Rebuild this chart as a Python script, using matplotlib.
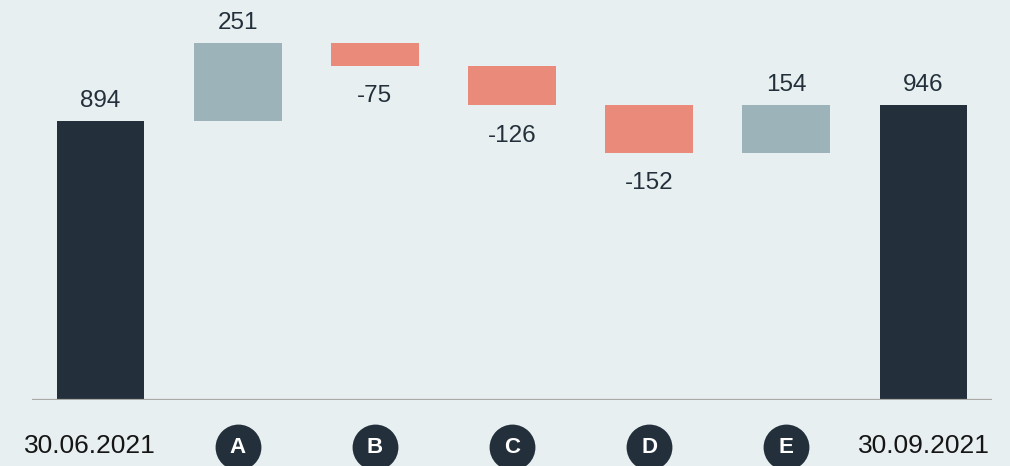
import matplotlib
matplotlib.use('Agg')
from matplotlib import pyplot as plt
import numpy as np

categories = ['30.06.2021', 'A', 'B', 'C', 'D', 'E', '30.09.2021']
changes = [894, 251, -75, -126, -152, 154, 946]
is_total = [True, False, False, False, False, False, True]

dark = '#23303b'
pos_color = '#9bb3b9'
neg_color = '#e98a7a'
bg = '#e8eff1'

plt.rcParams['font.family'] = ['Liberation Sans', 'DejaVu Sans']

# running totals for the floating bars
bottoms = []
heights = []
running = 0
for v, tot in zip(changes, is_total):
    if tot:
        bottoms.append(0)
        heights.append(v)
        running = v
    else:
        bottoms.append(running if v > 0 else running + v)
        heights.append(abs(v))
        running += v

colors = [dark if t else (pos_color if v > 0 else neg_color)
          for v, t in zip(changes, is_total)]

fig = plt.figure(figsize=(10.1, 4.66), dpi=100, facecolor=bg)
ax = fig.add_axes([32 / 1010, 66 / 466, 960 / 1010, 400 / 466])
ax.set_facecolor(bg)

x = np.arange(len(categories))
ax.bar(x, heights, bottom=bottoms, width=0.64, color=colors, zorder=2)
ax.axhline(0, color='#a9aaa5', lw=1.6, zorder=3)

for i, (v, b, h) in enumerate(zip(changes, bottoms, heights)):
    if v > 0:
        ax.annotate(str(v), (i, b + h), xytext=(0, 10), textcoords='offset points',
                    ha='center', va='baseline', fontsize=17.5, color=dark)
    else:
        ax.annotate(str(v), (i, b), xytext=(0, -26), textcoords='offset points',
                    ha='center', va='baseline', fontsize=17.5, color=dark)

trans = ax.get_xaxis_transform()
for i, (lab, tot) in enumerate(zip(categories, is_total)):
    if tot:
        # first date label sits a little left of its bar in the original
        dx = -8 if i == 0 else 0
        ax.annotate(lab, (i, -0.132), xycoords=trans, xytext=(dx, 0),
                    textcoords='offset points', ha='center', va='baseline',
                    fontsize=19, color='#151515')
    else:
        ax.scatter([i], [-0.117], s=1089, color=dark, transform=trans,
                   clip_on=False, zorder=4, linewidths=0)
        ax.text(i, -0.119, lab, transform=trans, ha='center', va='center',
                fontsize=16, fontweight='bold', color='white', zorder=5)

ax.set_xlim(-0.5, len(categories) - 0.5)
ax.set_ylim(0, 1282)
ax.axis('off')

fig.savefig('out.png', dpi=100, facecolor=bg)
